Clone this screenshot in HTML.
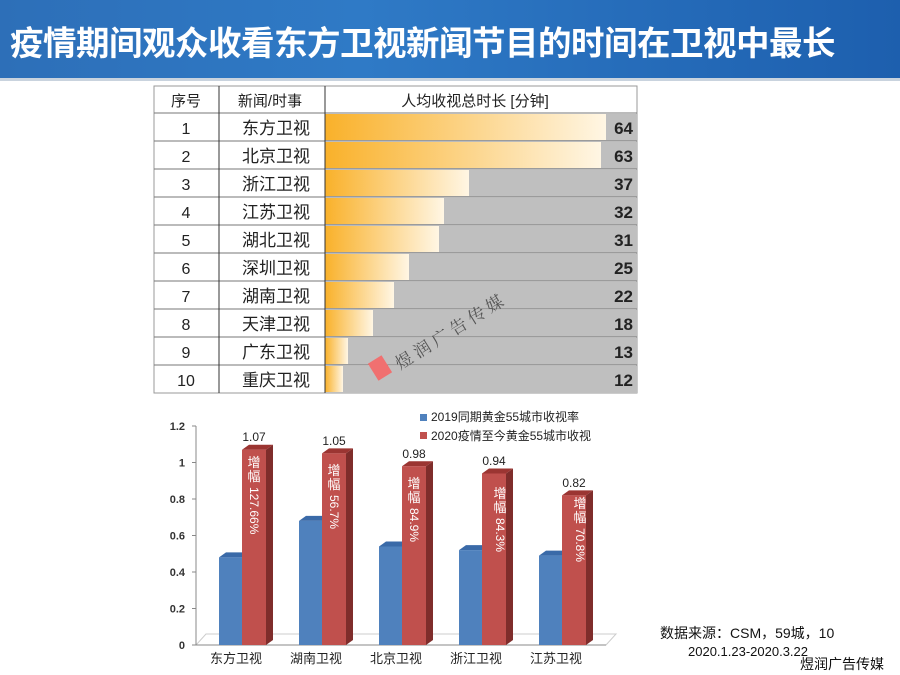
<!DOCTYPE html><html><head><meta charset="utf-8"><style>
body{margin:0;width:900px;height:675px;background:#fff;overflow:hidden;position:relative;font-family:"Liberation Sans","Noto Sans CJK SC",sans-serif}
.t{position:absolute}
</style></head><body>
<div class="t" style="left:0;top:0;width:900px;height:78px;background:linear-gradient(90deg,#2d6fb8,#2f7ac6 40%,#1d5fae);"></div>
<div class="t" style="left:0;top:78px;width:900px;height:3px;background:#c9d3de"></div>
<div class="t" style="left:10px;top:16px;font-size:33.5px;font-weight:bold;color:#fff;letter-spacing:-0.5px;white-space:nowrap;font-family:'Noto Sans CJK SC',sans-serif">疫情期间观众收看东方卫视新闻节目的时间在卫视中最长</div>
<svg class="t" style="left:0;top:0" width="900" height="675" font-family="Liberation Sans, Noto Sans CJK SC, sans-serif">
<defs><linearGradient id="g" x1="0" x2="1"><stop offset="0" stop-color="#f9b12a"/><stop offset="1" stop-color="#fff6e4"/></linearGradient></defs>
<rect x="154" y="86" width="483" height="307" fill="#fff" stroke="#999"/>
<g fill="#bfbfbf">
<rect x="325" y="114" width="312" height="27"/><rect x="325" y="142" width="312" height="27"/><rect x="325" y="170" width="312" height="27"/><rect x="325" y="198" width="312" height="27"/><rect x="325" y="226" width="312" height="27"/><rect x="325" y="254" width="312" height="27"/><rect x="325" y="282" width="312" height="27"/><rect x="325" y="310" width="312" height="27"/><rect x="325" y="338" width="312" height="27"/><rect x="325" y="366" width="312" height="27"/>
</g>
<g fill="url(#g)">
<rect x="325" y="114" width="281" height="26"/><rect x="325" y="142" width="276" height="26"/><rect x="325" y="170" width="144" height="26"/><rect x="325" y="198" width="119" height="26"/><rect x="325" y="226" width="114" height="26"/><rect x="325" y="254" width="84" height="26"/><rect x="325" y="282" width="69" height="26"/><rect x="325" y="310" width="48" height="26"/><rect x="325" y="338" width="23" height="26"/><rect x="325" y="366" width="18" height="26"/>
</g>
<g stroke="#777">
<line x1="154" y1="113" x2="637" y2="113"/><line x1="154" y1="141" x2="637" y2="141"/><line x1="154" y1="169" x2="637" y2="169"/><line x1="154" y1="197" x2="637" y2="197"/><line x1="154" y1="225" x2="637" y2="225"/><line x1="154" y1="253" x2="637" y2="253"/><line x1="154" y1="281" x2="637" y2="281"/><line x1="154" y1="309" x2="637" y2="309"/><line x1="154" y1="337" x2="637" y2="337"/><line x1="154" y1="365" x2="637" y2="365"/>
</g>
<line x1="219" y1="86" x2="219" y2="393" stroke="#333"/>
<line x1="325" y1="86" x2="325" y2="393" stroke="#333"/>
<g font-size="15" text-anchor="middle" fill="#222">
<text x="186" y="106">序号</text><text x="270" y="106">新闻/时事</text><text x="475" y="106">人均收视总时长 [分钟]</text>
</g>
<g font-size="16" text-anchor="middle" fill="#222">
<text x="186" y="134">1</text><text x="186" y="162">2</text><text x="186" y="190">3</text><text x="186" y="218">4</text><text x="186" y="246">5</text><text x="186" y="274">6</text><text x="186" y="302">7</text><text x="186" y="330">8</text><text x="186" y="358">9</text><text x="186" y="386">10</text>
</g>
<g font-size="17" text-anchor="end" fill="#222">
<text x="310" y="134">东方卫视</text><text x="310" y="162">北京卫视</text><text x="310" y="190">浙江卫视</text><text x="310" y="218">江苏卫视</text><text x="310" y="246">湖北卫视</text><text x="310" y="274">深圳卫视</text><text x="310" y="302">湖南卫视</text><text x="310" y="330">天津卫视</text><text x="310" y="358">广东卫视</text><text x="310" y="386">重庆卫视</text>
</g>
<g font-size="17" font-weight="bold" text-anchor="end" fill="#222">
<text x="633" y="134">64</text><text x="633" y="162">63</text><text x="633" y="190">37</text><text x="633" y="218">32</text><text x="633" y="246">31</text><text x="633" y="274">25</text><text x="633" y="302">22</text><text x="633" y="330">18</text><text x="633" y="358">13</text><text x="633" y="386">12</text>
</g>
<text x="400" y="370" font-size="17" fill="#555" transform="rotate(-32 400 370)" font-family="Noto Serif CJK SC, serif">煜 润 广 告 传 媒</text>
<rect x="372" y="358" width="16" height="20" fill="#f07070" transform="rotate(-32 380 368)"/>

<polygon points="196,645 606,645 616,634 206,634" fill="none" stroke="#ccc"/>
<line x1="196" y1="426" x2="196" y2="645" stroke="#888"/><line x1="196" y1="645" x2="606" y2="645" stroke="#888"/>
<g stroke="#888"><line x1="192" y1="645" x2="196" y2="645"/><line x1="192" y1="608.5" x2="196" y2="608.5"/><line x1="192" y1="572" x2="196" y2="572"/><line x1="192" y1="535.5" x2="196" y2="535.5"/><line x1="192" y1="499" x2="196" y2="499"/><line x1="192" y1="462.5" x2="196" y2="462.5"/><line x1="192" y1="426" x2="196" y2="426"/></g>
<g font-size="11" font-weight="bold" text-anchor="end" fill="#333">
<text x="185" y="649">0</text><text x="185" y="612.5">0.2</text><text x="185" y="576">0.4</text><text x="185" y="539.5">0.6</text><text x="185" y="503">0.8</text><text x="185" y="466.5">1</text><text x="185" y="430">1.2</text>
</g>
<g fill="#3a6aa8">
<polygon points="219,557.4 242,557.4 249,552.4 226,552.4"/><polygon points="299,520.9 322,520.9 329,515.9 306,515.9"/><polygon points="379,546.5 402,546.5 409,541.5 386,541.5"/><polygon points="459,550.1 482,550.1 489,545.1 466,545.1"/><polygon points="539,555.6 562,555.6 569,550.6 546,550.6"/>
</g>
<g fill="#4f81bd">
<rect x="219" y="557.4" width="23" height="87.6"/><rect x="299" y="520.9" width="23" height="124.1"/><rect x="379" y="546.5" width="23" height="98.5"/><rect x="459" y="550.1" width="23" height="94.9"/><rect x="539" y="555.6" width="23" height="89.4"/>
</g>
<g fill="#7f2d2b">
<polygon points="266,449.7 273,444.7 273,640 266,645"/><polygon points="346,453.4 353,448.4 353,640 346,645"/><polygon points="426,466.2 433,461.2 433,640 426,645"/><polygon points="506,473.5 513,468.5 513,640 506,645"/><polygon points="586,495.4 593,490.4 593,640 586,645"/>
</g>
<g fill="#9b3532">
<polygon points="242,449.7 266,449.7 273,444.7 249,444.7"/><polygon points="322,453.4 346,453.4 353,448.4 329,448.4"/><polygon points="402,466.2 426,466.2 433,461.2 409,461.2"/><polygon points="482,473.5 506,473.5 513,468.5 489,468.5"/><polygon points="562,495.4 586,495.4 593,490.4 569,490.4"/>
</g>
<g fill="#c0504d">
<rect x="242" y="449.7" width="24" height="195.3"/><rect x="322" y="453.4" width="24" height="191.6"/><rect x="402" y="466.2" width="24" height="178.8"/><rect x="482" y="473.5" width="24" height="171.5"/><rect x="562" y="495.4" width="24" height="149.6"/>
</g>
<g font-size="12" text-anchor="middle" fill="#222">
<text x="254" y="441">1.07</text><text x="334" y="445">1.05</text><text x="414" y="458">0.98</text><text x="494" y="465">0.94</text><text x="574" y="487">0.82</text>
</g>
<g font-size="13" text-anchor="middle" fill="#fff">
<text x="254" y="467">增</text><text x="254" y="481">幅</text>
<text x="334" y="475">增</text><text x="334" y="489">幅</text>
<text x="414" y="488">增</text><text x="414" y="502">幅</text>
<text x="500" y="498">增</text><text x="500" y="512">幅</text>
<text x="580" y="508">增</text><text x="580" y="522">幅</text>
</g>
<g font-size="12" fill="#fff">
<text x="250" y="487" transform="rotate(90 250 487)">127.66%</text>
<text x="330" y="495" transform="rotate(90 330 495)">56.7%</text>
<text x="410" y="508" transform="rotate(90 410 508)">84.9%</text>
<text x="496" y="518" transform="rotate(90 496 518)">84.3%</text>
<text x="576" y="528" transform="rotate(90 576 528)">70.8%</text>
</g>
<g font-size="13" text-anchor="middle" fill="#222">
<text x="236" y="663">东方卫视</text><text x="316" y="663">湖南卫视</text><text x="396" y="663">北京卫视</text><text x="476" y="663">浙江卫视</text><text x="556" y="663">江苏卫视</text>
</g>
<rect x="420" y="414" width="7" height="7" fill="#4f81bd"/><text x="431" y="421" font-size="12" fill="#222">2019同期黄金55城市收视率</text>
<rect x="420" y="432" width="7" height="7" fill="#c0504d"/><text x="431" y="440" font-size="12" fill="#222">2020疫情至今黄金55城市收视</text>
<text x="660" y="638" font-size="14" fill="#111">数据来源：CSM，59城，10</text>
<text x="688" y="656" font-size="13" fill="#111">2020.1.23-2020.3.22</text>
<text x="800" y="669" font-size="14" fill="#111">煜润广告传媒</text>
</svg>
</body></html>
